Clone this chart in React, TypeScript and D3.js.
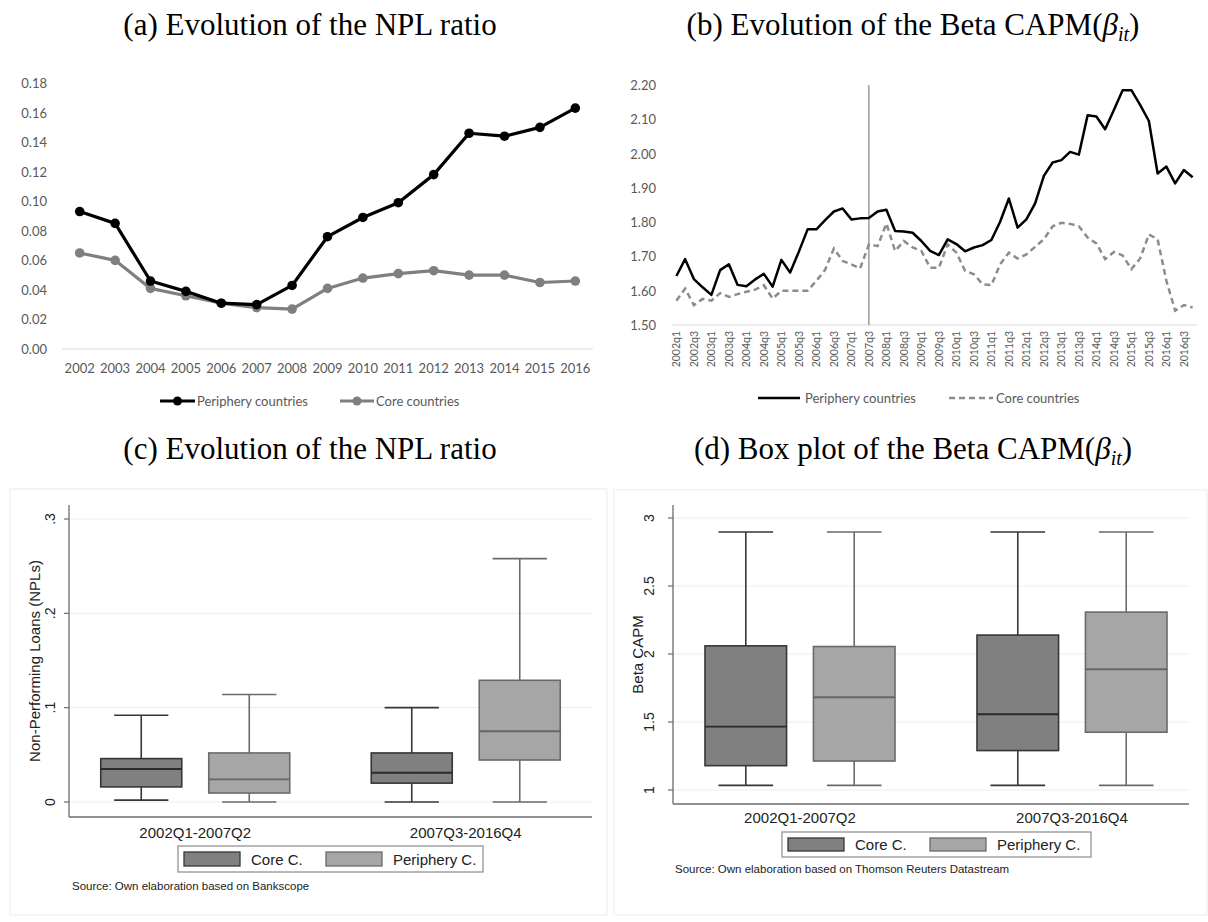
import * as d3 from "d3";

// ---- data: top panels (line charts) ----
const YEARS = ["2002", "2003", "2004", "2005", "2006", "2007", "2008", "2009", "2010", "2011", "2012", "2013", "2014", "2015", "2016"];
const NPL_PERIPHERY = [0.093, 0.085, 0.046, 0.039, 0.031, 0.030, 0.043, 0.076, 0.089, 0.099, 0.118, 0.146, 0.144, 0.150, 0.163];
const NPL_CORE = [0.065, 0.060, 0.041, 0.036, 0.031, 0.028, 0.027, 0.041, 0.048, 0.051, 0.053, 0.050, 0.050, 0.045, 0.046];
const NPL_TICKS = [0, 0.02, 0.04, 0.06, 0.08, 0.1, 0.12, 0.14, 0.16, 0.18];

const QUARTERS = YEARS.flatMap((y) => ["q1", "q2", "q3", "q4"].map((q) => y + q));
const BREAK_QUARTER = "2007q3";
const BETA_PERIPHERY = [
  1.643, 1.692, 1.634, 1.610, 1.588, 1.660, 1.677, 1.617, 1.613, 1.633,
  1.649, 1.612, 1.690, 1.653, 1.714, 1.779, 1.779, 1.806, 1.831, 1.840,
  1.808, 1.811, 1.812, 1.831, 1.836, 1.774, 1.773, 1.769, 1.745, 1.716,
  1.704, 1.750, 1.736, 1.715, 1.726, 1.733, 1.748, 1.801, 1.869, 1.784,
  1.808, 1.855, 1.935, 1.974, 1.981, 2.005, 1.997, 2.112, 2.108, 2.071,
  2.127, 2.185, 2.185, 2.142, 2.095, 1.942, 1.962, 1.913, 1.952, 1.931,
];
const BETA_CORE = [
  1.571, 1.606, 1.558, 1.576, 1.571, 1.593, 1.582, 1.590, 1.597, 1.603,
  1.616, 1.577, 1.600, 1.600, 1.600, 1.600, 1.629, 1.661, 1.723, 1.687,
  1.677, 1.665, 1.735, 1.730, 1.796, 1.716, 1.745, 1.726, 1.716, 1.667,
  1.667, 1.735, 1.711, 1.658, 1.648, 1.619, 1.616, 1.677, 1.711, 1.694,
  1.706, 1.728, 1.750, 1.788, 1.798, 1.795, 1.788, 1.755, 1.738, 1.692,
  1.713, 1.703, 1.663, 1.694, 1.764, 1.750, 1.629, 1.542, 1.558, 1.551,
];
const BETA_TICKS = [1.5, 1.6, 1.7, 1.8, 1.9, 2.0, 2.1, 2.2];

// ---- data: bottom panels (box plots) ----
// each entry: [lower whisker, q1, median, q3, upper whisker]
const PERIODS = ["2002Q1-2007Q2", "2007Q3-2016Q4"];
const GROUPS = ["Core C.", "Periphery C."];
const NPL_BOX_CORE = [[0.002, 0.016, 0.035, 0.046, 0.092], [0, 0.020, 0.031, 0.052, 0.100]];
const NPL_BOX_PERIPHERY = [[0, 0.0095, 0.024, 0.052, 0.114], [0, 0.0445, 0.075, 0.129, 0.258]];
const NPL_BOX_TICKS = [0, 0.1, 0.2, 0.3];
const NPL_BOX_LABELS = ["0", ".1", ".2", ".3"];
const BETA_BOX_CORE = [[1.034, 1.179, 1.466, 2.060, 2.897], [1.034, 1.290, 1.557, 2.139, 2.897]];
const BETA_BOX_PERIPHERY = [[1.034, 1.213, 1.682, 2.055, 2.897], [1.034, 1.425, 1.888, 2.308, 2.897]];
const BETA_BOX_TICKS = [1, 1.5, 2, 2.5, 3];
const BETA_BOX_LABELS = ["1", "1.5", "2", "2.5", "3"];

const SERIF = "'Liberation Serif', 'Times New Roman', serif";
const EXCEL_FONT = "Lato, 'Open Sans', sans-serif";
const STATA_FONT = "'Liberation Sans', Arial, sans-serif";
const EXCEL_TEXT = "#595959";

const BOX_STYLE = {
  "Core C.": { fill: "#808080", stroke: "#363636", median: "#2a2a2a" },
  "Periphery C.": { fill: "#a6a6a6", stroke: "#6a6a6a", median: "#666666" },
};

function Title({ x, y, children }) {
  return (
    <text x={x} y={y} textAnchor="middle" fontFamily={SERIF} fontSize={31} fill="#000">
      {children}
    </text>
  );
}

function BetaSymbol() {
  return (
    <>
      <tspan fontStyle="italic">β</tspan>
      <tspan fontStyle="italic" fontSize={20} dy={6}>it</tspan>
      <tspan dy={-6}>)</tspan>
    </>
  );
}

function NplLines() {
  const x = d3.scaleBand().domain(YEARS).range([62, 593]);
  const y = d3.scaleLinear().domain([0, 0.18]).range([349, 83]);
  const cx = (d) => x(d) + x.bandwidth() / 2;
  const line = d3.line().x((d) => cx(d[0])).y((d) => y(d[1]));
  const series = [
    { name: "Periphery countries", values: NPL_PERIPHERY, color: "#000000" },
    { name: "Core countries", values: NPL_CORE, color: "#7f7f7f" },
  ];
  return (
    <g fontFamily={EXCEL_FONT}>
      {NPL_TICKS.map((t) => (
        <text key={t} x={47} y={y(t)} textAnchor="end" dominantBaseline="central" fontSize={13} fill={EXCEL_TEXT}>
          {t.toFixed(2)}
        </text>
      ))}
      <line x1={62} x2={593} y1={y(0)} y2={y(0)} stroke="#d9d9d9" strokeWidth={1} />
      {YEARS.map((yr) => (
        <text key={yr} x={cx(yr)} y={368} textAnchor="middle" dominantBaseline="central" fontSize={13} fill={EXCEL_TEXT}>
          {yr}
        </text>
      ))}
      {series.slice().reverse().map((s) => (
        <g key={s.name}>
          <path d={line(YEARS.map((yr, i) => [yr, s.values[i]]))} fill="none" stroke={s.color} strokeWidth={3.2} strokeLinejoin="round" />
          {YEARS.map((yr, i) => (
            <circle key={yr} cx={cx(yr)} cy={y(s.values[i])} r={4.8} fill={s.color} />
          ))}
        </g>
      ))}
      {/* legend */}
      <line x1={160} x2={195} y1={401} y2={401} stroke="#000" strokeWidth={3} />
      <circle cx={177.5} cy={401} r={4.5} fill="#000" />
      <text x={197} y={401} dominantBaseline="central" fontSize={13} fill={EXCEL_TEXT}>Periphery countries</text>
      <line x1={340} x2={374} y1={401} y2={401} stroke="#7f7f7f" strokeWidth={3} />
      <circle cx={357} cy={401} r={4.5} fill="#7f7f7f" />
      <text x={376} y={401} dominantBaseline="central" fontSize={13} fill={EXCEL_TEXT}>Core countries</text>
    </g>
  );
}

function BetaLines() {
  const x = d3.scaleBand().domain(QUARTERS).range([672, 1197]);
  const y = d3.scaleLinear().domain([1.5, 2.2]).range([325, 85]);
  const cx = (d) => x(d) + x.bandwidth() / 2;
  const line = d3.line().x((d) => cx(d[0])).y((d) => y(d[1]));
  return (
    <g fontFamily={EXCEL_FONT}>
      {BETA_TICKS.map((t) => (
        <text key={t} x={656} y={y(t)} textAnchor="end" dominantBaseline="central" fontSize={13} fill={EXCEL_TEXT}>
          {t.toFixed(2)}
        </text>
      ))}
      <line x1={672} x2={1197} y1={y(1.5)} y2={y(1.5)} stroke="#d9d9d9" strokeWidth={1} />
      {QUARTERS.filter((q, i) => i % 2 === 0).map((q) => (
        <text key={q} transform={`translate(${cx(q)},331) rotate(-90)`} textAnchor="end" dominantBaseline="central" fontSize={10.5} fill={EXCEL_TEXT}>
          {q}
        </text>
      ))}
      <line x1={cx(BREAK_QUARTER)} x2={cx(BREAK_QUARTER)} y1={y(2.2)} y2={y(1.5)} stroke="#8c8c8c" strokeWidth={1.3} />
      <path d={line(QUARTERS.map((q, i) => [q, BETA_CORE[i]]))} fill="none" stroke="#8c8c8c" strokeWidth={2.5} strokeDasharray="6,4" />
      <path d={line(QUARTERS.map((q, i) => [q, BETA_PERIPHERY[i]]))} fill="none" stroke="#000" strokeWidth={2.5} strokeLinejoin="round" />
      {/* legend */}
      <line x1={758} x2={800} y1={398} y2={398} stroke="#000" strokeWidth={2.5} />
      <text x={805} y={398} dominantBaseline="central" fontSize={13} fill={EXCEL_TEXT}>Periphery countries</text>
      <line x1={949} x2={993} y1={398} y2={398} stroke="#8c8c8c" strokeWidth={2.5} strokeDasharray="6,4" />
      <text x={996} y={398} dominantBaseline="central" fontSize={13} fill={EXCEL_TEXT}>Core countries</text>
    </g>
  );
}

function BoxPanel({ cfg, core, periphery, ticks, tickLabels, yTitle, source }) {
  const y = d3.scaleLinear().domain(cfg.yDomain).range(cfg.yRange);
  const xPeriod = d3.scaleBand().domain(PERIODS).range(cfg.periodRange);
  const xGroup = d3.scaleBand().domain(GROUPS).range([0, cfg.innerWidth]).paddingInner(cfg.innerPad);
  const stats = { "Core C.": core, "Periphery C.": periphery };
  const bw = xGroup.bandwidth();
  const capW = bw * 0.67;
  const L = cfg.legend;
  return (
    <g fontFamily={STATA_FONT}>
      <rect x={cfg.frame[0]} y={cfg.frame[1]} width={cfg.frame[2]} height={cfg.frame[3]} fill="#fff" stroke="#ececec" strokeWidth={1} />
      {ticks.map((t) => (
        <line key={t} x1={cfg.plotLeft} x2={cfg.plotRight} y1={y(t)} y2={y(t)} stroke="#eeeeee" strokeWidth={1.2} />
      ))}
      {PERIODS.map((p, pi) => {
        const center = xPeriod(p) + xPeriod.bandwidth() / 2;
        const start = center - cfg.innerWidth / 2;
        return (
          <g key={p}>
            {GROUPS.map((g) => {
              const [lo, q1, med, q3, hi] = stats[g][pi];
              const x0 = start + xGroup(g);
              const mid = x0 + bw / 2;
              const st = BOX_STYLE[g];
              return (
                <g key={g} stroke={st.stroke} strokeWidth={1.6}>
                  <line x1={mid} x2={mid} y1={y(hi)} y2={y(q3)} />
                  <line x1={mid} x2={mid} y1={y(q1)} y2={y(lo)} />
                  <line x1={mid - capW / 2} x2={mid + capW / 2} y1={y(hi)} y2={y(hi)} />
                  <line x1={mid - capW / 2} x2={mid + capW / 2} y1={y(lo)} y2={y(lo)} />
                  <rect x={x0} y={y(q3)} width={bw} height={y(q1) - y(q3)} fill={st.fill} />
                  <line x1={x0} x2={x0 + bw} y1={y(med)} y2={y(med)} stroke={st.median} strokeWidth={1.8} />
                </g>
              );
            })}
            <text x={center} y={cfg.catLabelY} textAnchor="middle" dominantBaseline="central" fontSize={15} fill="#222">
              {p}
            </text>
          </g>
        );
      })}
      {/* axes */}
      <line x1={cfg.plotLeft} x2={cfg.plotLeft} y1={cfg.plotTop} y2={cfg.plotBottom} stroke="#6b6b6b" strokeWidth={1.3} />
      <line x1={cfg.plotLeft} x2={cfg.plotRight} y1={cfg.plotBottom} y2={cfg.plotBottom} stroke="#6b6b6b" strokeWidth={1.3} />
      {ticks.map((t, i) => (
        <g key={t}>
          <line x1={cfg.plotLeft - 5} x2={cfg.plotLeft} y1={y(t)} y2={y(t)} stroke="#6b6b6b" strokeWidth={1.2} />
          <text transform={`translate(${cfg.tickLabelX},${y(t)}) rotate(-90)`} textAnchor="middle" dominantBaseline="central" fontSize={14} fill="#222">
            {tickLabels[i]}
          </text>
        </g>
      ))}
      <text transform={`translate(${cfg.yTitleX},${(cfg.plotTop + cfg.plotBottom) / 2}) rotate(-90)`} textAnchor="middle" dominantBaseline="central" fontSize={15} fill="#222">
        {yTitle}
      </text>
      {/* legend */}
      <rect x={L[0]} y={L[1]} width={L[2]} height={L[3]} fill="#fff" stroke="#8a8a8a" strokeWidth={1.2} />
      {GROUPS.map((g, i) => {
        const sx = L[0] + (i === 0 ? 6 : 148);
        return (
          <g key={g}>
            <rect x={sx} y={L[1] + 6} width={56} height={L[3] - 12} fill={BOX_STYLE[g].fill} stroke={BOX_STYLE[g].stroke} strokeWidth={1.3} />
            <text x={sx + 67} y={L[1] + L[3] / 2} dominantBaseline="central" fontSize={15} fill="#222">
              {g}
            </text>
          </g>
        );
      })}
      <text x={cfg.sourceX} y={cfg.sourceY} dominantBaseline="central" fontSize={11.5} fill="#222">
        {source}
      </text>
    </g>
  );
}

const PANEL_C = {
  frame: [10, 489, 597, 426],
  plotLeft: 69, plotRight: 592, plotTop: 505, plotBottom: 817,
  yDomain: [0, 0.3], yRange: [802, 519],
  periodRange: [60, 601], innerWidth: 189, innerPad: 0.25,
  tickLabelX: 50, yTitleX: 34, catLabelY: 832,
  legend: [178, 846, 305, 26],
  sourceX: 72, sourceY: 886,
};

const PANEL_D = {
  frame: [614, 490, 593, 425],
  plotLeft: 673, plotRight: 1189, plotTop: 505, plotBottom: 804,
  yDomain: [1, 3], yRange: [790, 518],
  periodRange: [664, 1208], innerWidth: 190, innerPad: 0.2477,
  tickLabelX: 649, yTitleX: 637, catLabelY: 817,
  legend: [782, 832, 309, 25],
  sourceX: 675, sourceY: 869,
};

export default function App() {
  return (
    <div style={{ position: "absolute", left: 0, top: 0 }}>
      <svg width={1208} height={922} style={{ display: "block", background: "#fff" }}>
        <Title x={310} y={35}>(a) Evolution of the NPL ratio</Title>
        <Title x={913} y={35}>(b) Evolution of the Beta CAPM(<BetaSymbol /></Title>
        <NplLines />
        <BetaLines />
        <Title x={310} y={459}>(c) Evolution of the NPL ratio</Title>
        <Title x={913} y={459}>(d) Box plot of the Beta CAPM(<BetaSymbol /></Title>
        <BoxPanel
          cfg={PANEL_C}
          core={NPL_BOX_CORE}
          periphery={NPL_BOX_PERIPHERY}
          ticks={NPL_BOX_TICKS}
          tickLabels={NPL_BOX_LABELS}
          yTitle="Non-Performing Loans (NPLs)"
          source="Source: Own elaboration based on Bankscope"
        />
        <BoxPanel
          cfg={PANEL_D}
          core={BETA_BOX_CORE}
          periphery={BETA_BOX_PERIPHERY}
          ticks={BETA_BOX_TICKS}
          tickLabels={BETA_BOX_LABELS}
          yTitle="Beta CAPM"
          source="Source: Own elaboration based on Thomson Reuters Datastream"
        />
      </svg>
    </div>
  );
}
